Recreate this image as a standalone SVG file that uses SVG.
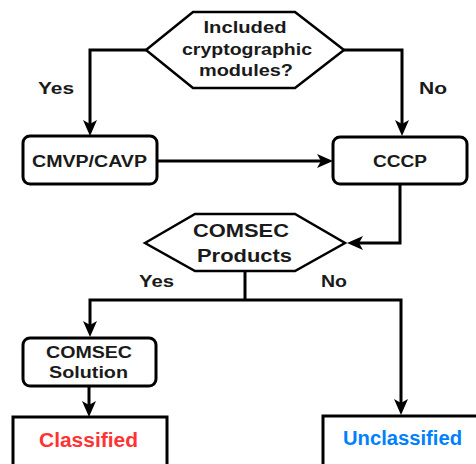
<svg xmlns="http://www.w3.org/2000/svg" width="476" height="464" viewBox="0 0 476 464">
<style>
  .shape { fill: #fff; stroke: #000; stroke-width: 3; }
  .hex { fill: #fff; stroke: #000; stroke-width: 2.5; stroke-linejoin: miter; }
  .edge { fill: none; stroke: #000; stroke-width: 3; marker-end: url(#arrow); }
  .line { fill: none; stroke: #000; stroke-width: 3; }
  text { font-family: "Liberation Sans", Arial, sans-serif; font-weight: bold; fill: #1a1a1a; text-anchor: middle; }
  .t16 { font-size: 16px; }
  .t18 { font-size: 18px; }
  .t20 { font-size: 20px; }
</style>
<defs>
  <marker id="arrow" viewBox="0 0 16 14" refX="6" refY="7" markerWidth="16" markerHeight="14" markerUnits="userSpaceOnUse" orient="auto">
    <path d="M0,0 L16,7 L0,14 L4,7 Z" fill="#000"/>
  </marker>
</defs>
<rect width="476" height="464" fill="#fff"/>

<g id="connectors">
  <path class="edge" d="M146,50 H90 V126"/>
  <path class="edge" d="M344,50 H402 V126"/>
  <path class="edge" d="M157,161 H323"/>
  <path class="edge" d="M400,184 V243 H357"/>
  <path class="line" d="M245,271 V300"/>
  <path class="edge" d="M245,300 H90 V327"/>
  <path class="edge" d="M245,300 H401 V405"/>
  <path class="edge" d="M89,386 V407"/>
  <text class="t16" x="56" y="94" textLength="36" lengthAdjust="spacingAndGlyphs">Yes</text>
  <text class="t16" x="433" y="94" textLength="28" lengthAdjust="spacingAndGlyphs">No</text>
  <text class="t16" x="156.5" y="287" textLength="35" lengthAdjust="spacingAndGlyphs">Yes</text>
  <text class="t16" x="334" y="287" textLength="26" lengthAdjust="spacingAndGlyphs">No</text>
</g>

<g id="node-included">
  <polygon class="hex" points="146,50 193,12 295,12 344,50 295,88 193,88"/>
  <text class="t16" x="245" y="33" textLength="83" lengthAdjust="spacingAndGlyphs">Included</text>
  <text class="t16" x="247" y="55" textLength="130" lengthAdjust="spacingAndGlyphs">cryptographic</text>
  <text class="t16" x="246" y="76" textLength="94" lengthAdjust="spacingAndGlyphs">modules?</text>
</g>

<g id="node-cmvp">
  <rect class="shape" x="23" y="136" width="134" height="48" rx="7"/>
  <text class="t16" x="89.5" y="167" textLength="115" lengthAdjust="spacingAndGlyphs">CMVP/CAVP</text>
</g>

<g id="node-cccp">
  <rect class="shape" x="333" y="137" width="134" height="47" rx="7"/>
  <text class="t16" x="400" y="167" textLength="54" lengthAdjust="spacingAndGlyphs">CCCP</text>
</g>

<g id="node-comsec-products">
  <polygon class="hex" points="145,243 195,214 295,214 345,243 295,271 195,271"/>
  <text class="t18" x="241" y="237" textLength="96" lengthAdjust="spacingAndGlyphs">COMSEC</text>
  <text class="t18" x="244.5" y="262" textLength="95" lengthAdjust="spacingAndGlyphs">Products</text>
</g>

<g id="node-comsec-solution">
  <rect class="shape" x="23" y="338" width="133" height="48" rx="7"/>
  <text class="t16" x="89" y="358" textLength="86" lengthAdjust="spacingAndGlyphs">COMSEC</text>
  <text class="t16" x="88.5" y="378" textLength="79" lengthAdjust="spacingAndGlyphs">Solution</text>
</g>

<g id="node-classified">
  <rect class="shape" x="13" y="417" width="154" height="60"/>
  <text class="t20" x="88.5" y="447" textLength="99" lengthAdjust="spacingAndGlyphs" style="fill:#FF3333">Classified</text>
</g>

<g id="node-unclassified">
  <rect class="shape" x="323" y="416" width="170" height="60"/>
  <text class="t20" x="402.5" y="445" textLength="119" lengthAdjust="spacingAndGlyphs" style="fill:#007FFF">Unclassified</text>
</g>
</svg>
